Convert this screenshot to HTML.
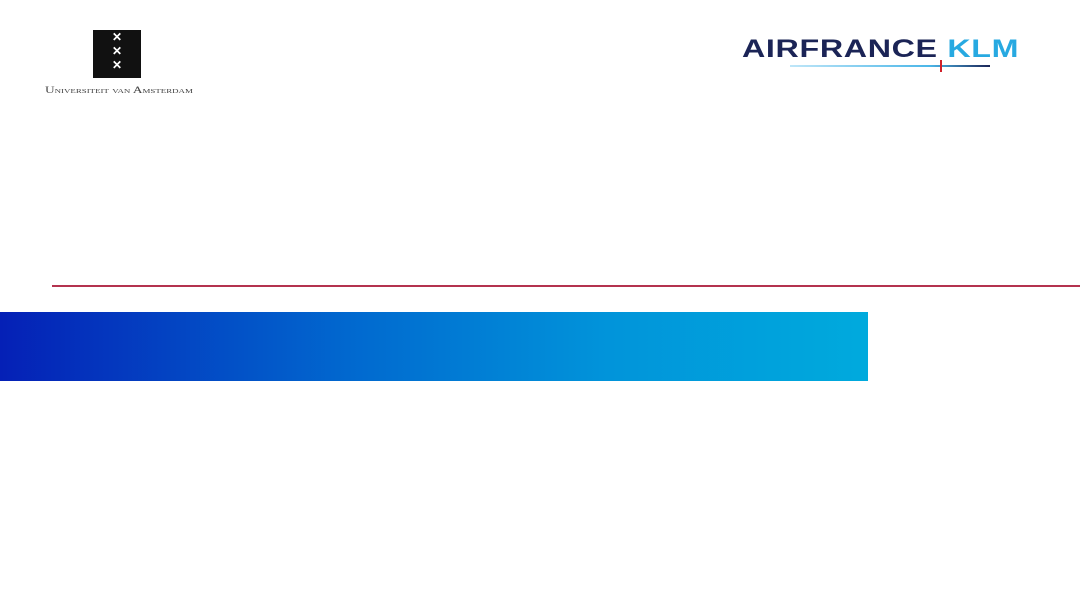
<!DOCTYPE html>
<html><head><meta charset="utf-8"><style>
body{margin:0;width:1080px;height:608px;background:#fff;position:relative;overflow:hidden;font-family:"Liberation Sans",sans-serif}
div{position:absolute}
</style></head><body>
<div style="left:93px;top:30px;width:48px;height:48px;background:#111;color:#fff;text-align:center;font-size:12px;line-height:14px;font-weight:bold">✕<br>✕<br>✕</div>
<div style="left:45px;top:85px;font-family:'Liberation Serif',serif;font-size:9px;font-variant:small-caps;color:#444;white-space:nowrap;transform:scaleX(1.48);transform-origin:left top">Universiteit van Amsterdam</div>
<div style="left:742px;top:35px;font-size:25px;font-weight:bold;color:#1b2456;white-space:nowrap;letter-spacing:0.5px;transform:scaleX(1.29);transform-origin:left top">AIRFRANCE <span style="color:#27a9e1">KLM</span></div>
<div style="left:790px;top:65px;width:200px;height:2px;background:linear-gradient(90deg,#bfe6f8,#4bb6e8 70%,#1b2456)"></div>
<div style="left:940px;top:60px;width:2px;height:12px;background:#d0202a"></div>
<div style="left:52px;top:285px;width:1028px;height:2px;background:#b4334f"></div>
<div style="left:0;top:312px;width:868px;height:69px;background:linear-gradient(90deg,#0520b6,#0168cf 40%,#0194da 70%,#00aadd)"></div>
</body></html>
